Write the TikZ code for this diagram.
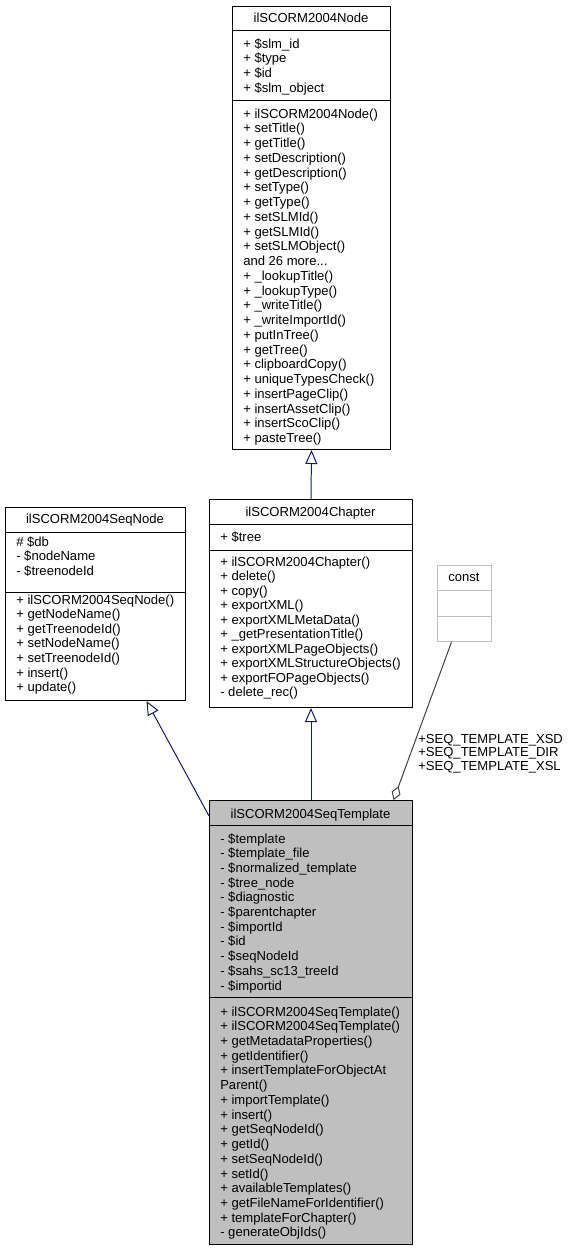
\documentclass[tikz,border=0pt]{standalone}
\usepackage{fontspec}
\setmainfont{Liberation Sans}
\usetikzlibrary{arrows.meta}

\definecolor{edgeblue}{RGB}{25,25,112}
\definecolor{boxgray}{RGB}{191,191,191}
\definecolor{edgegray}{RGB}{64,64,64}

\newcommand\nodemore{and 26 more...}

\tikzset{
  classbox/.style={draw=black, line width=0.75pt, fill=white, inner sep=0pt, anchor=north west},
  member/.style={anchor=base west, inner sep=0pt, font=\fontsize{9.8}{11}\selectfont},
  classtitle/.style={anchor=base, inner sep=0pt, font=\fontsize{9.8}{11}\selectfont},
  inherit/.style={draw=edgeblue, line width=0.75pt, -{Triangle[open, length=10.5pt, width=9pt]}},
  aggregate/.style={draw=edgegray, line width=0.75pt, -{Diamond[open, length=11pt, width=7pt]}},
}

\begin{document}
\begin{tikzpicture}[x=0.75pt,y=-0.75pt]
    \useasboundingbox (0,0) rectangle (573,1249);

    % ilSCORM2004Node
    \node[classbox, minimum width=118.5pt, minimum height=332.25pt] (node) at (232,6) {};
    \draw (232,30) -- (390,30);
    \draw (232,100) -- (390,100);
    \node[classtitle] (node-title) at (311,22) {ilSCORM2004Node};
    \foreach \m [count=\i from 0] in {+ \$slm\_id, + \$type, + \$id, + \$slm\_object}
        \node[member] (node-attr\i) at (243,{48+14.7*\i}) {\m};
    \foreach \m [count=\i from 0] in {+ ilSCORM2004Node(), + setTitle(), + getTitle(),
        + setDescription(), + getDescription(), + setType(), + getType(), + setSLMId(),
        + getSLMId(), + setSLMObject(), \nodemore, + \_lookupTitle(), + \_lookupType(),
        + \_writeTitle(), + \_writeImportId(), + putInTree(), + getTree(), + clipboardCopy(),
        + uniqueTypesCheck(), + insertPageClip(), + insertAssetClip(), + insertScoClip(),
        + pasteTree()}
        \node[member] (node-op\i) at (243,{118+14.75*\i}) {\m};

    % ilSCORM2004SeqNode
    \node[classbox, minimum width=135pt, minimum height=144.75pt] (seqnode) at (5,507) {};
    \draw (5,532) -- (185,532);
    \draw (5,592) -- (185,592);
    \node[classtitle] (seqnode-title) at (95,523) {ilSCORM2004SeqNode};
    \foreach \m [count=\i from 0] in {\# \$db, - \$nodeName, - \$treenodeId}
        \node[member] (seqnode-attr\i) at (16,{546+14.7*\i}) {\m};
    \foreach \m [count=\i from 0] in {+ ilSCORM2004SeqNode(), + getNodeName(), + getTreenodeId(),
        + setNodeName(), + setTreenodeId(), + insert(), + update()}
        \node[member] (seqnode-op\i) at (16,{604+14.6*\i}) {\m};

    % ilSCORM2004Chapter
    \node[classbox, minimum width=152.25pt, minimum height=156pt] (chapter) at (209,499) {};
    \draw (209,524) -- (412,524);
    \draw (209,550) -- (412,550);
    \node[classtitle] (chapter-title) at (310.5,516) {ilSCORM2004Chapter};
    \node[member] (chapter-attr0) at (220,541) {+ \$tree};
    \foreach \m [count=\i from 0] in {+ ilSCORM2004Chapter(), + delete(), + copy(), + exportXML(),
        + exportXMLMetaData(), + \_getPresentationTitle(), + exportXMLPageObjects(),
        + exportXMLStructureObjects(), + exportFOPageObjects(), - delete\_rec()}
        \node[member] (chapter-op\i) at (220,{566+14.5*\i}) {\m};

    % const
    \node[classbox, draw=boxgray, minimum width=40.5pt, minimum height=57pt] (const) at (437,565) {};
    \draw[boxgray] (437,590) -- (491,590);
    \draw[boxgray] (437,616) -- (491,616);
    \node[classtitle] (const-title) at (464,581.5) {const};

    % ilSCORM2004SeqTemplate (highlighted)
    \node[classbox, fill=boxgray, minimum width=152.25pt, minimum height=333pt] (template) at (209,800) {};
    \draw (209,825) -- (412,825);
    \draw (209,997) -- (412,997);
    \node[classtitle] (template-title) at (310.5,818) {ilSCORM2004SeqTemplate};
    \foreach \m [count=\i from 0] in {- \$template, - \$template\_file, - \$normalized\_template,
        - \$tree\_node, - \$diagnostic, - \$parentchapter, - \$importId, - \$id, - \$seqNodeId,
        - \$sahs\_sc13\_treeId, - \$importid}
        \node[member] (template-attr\i) at (220,{843+14.7*\i}) {\m};
    \foreach \m [count=\i from 0] in {+ ilSCORM2004SeqTemplate(), + ilSCORM2004SeqTemplate(),
        + getMetadataProperties(), + getIdentifier(), + insertTemplateForObjectAt, Parent(),
        + importTemplate(), + insert(), + getSeqNodeId(), + getId(), + setSeqNodeId(), + setId(),
        + availableTemplates(), + getFileNameForIdentifier(), + templateForChapter(),
        - generateObjIds()}
        \node[member] (template-op\i) at (220,{1016+14.73*\i}) {\m};

    % Relations
    \draw[inherit] (chapter.north) -- (node.south);
    \draw[inherit] (template.north) -- (chapter.south);
    \draw[inherit] ([yshift=-12pt]template.north west) -- ([xshift=38.25pt]seqnode.south);
    \draw[aggregate] ([xshift=-9.75pt]const.south) -- ([xshift=61.9pt]template.north);
    \foreach \m [count=\i from 0] in {+SEQ\_TEMPLATE\_XSD, +SEQ\_TEMPLATE\_DIR, +SEQ\_TEMPLATE\_XSL}
        \node[member] (const-label\i) at (418,{743+13.7*\i}) {\m};
\end{tikzpicture}
\end{document}
